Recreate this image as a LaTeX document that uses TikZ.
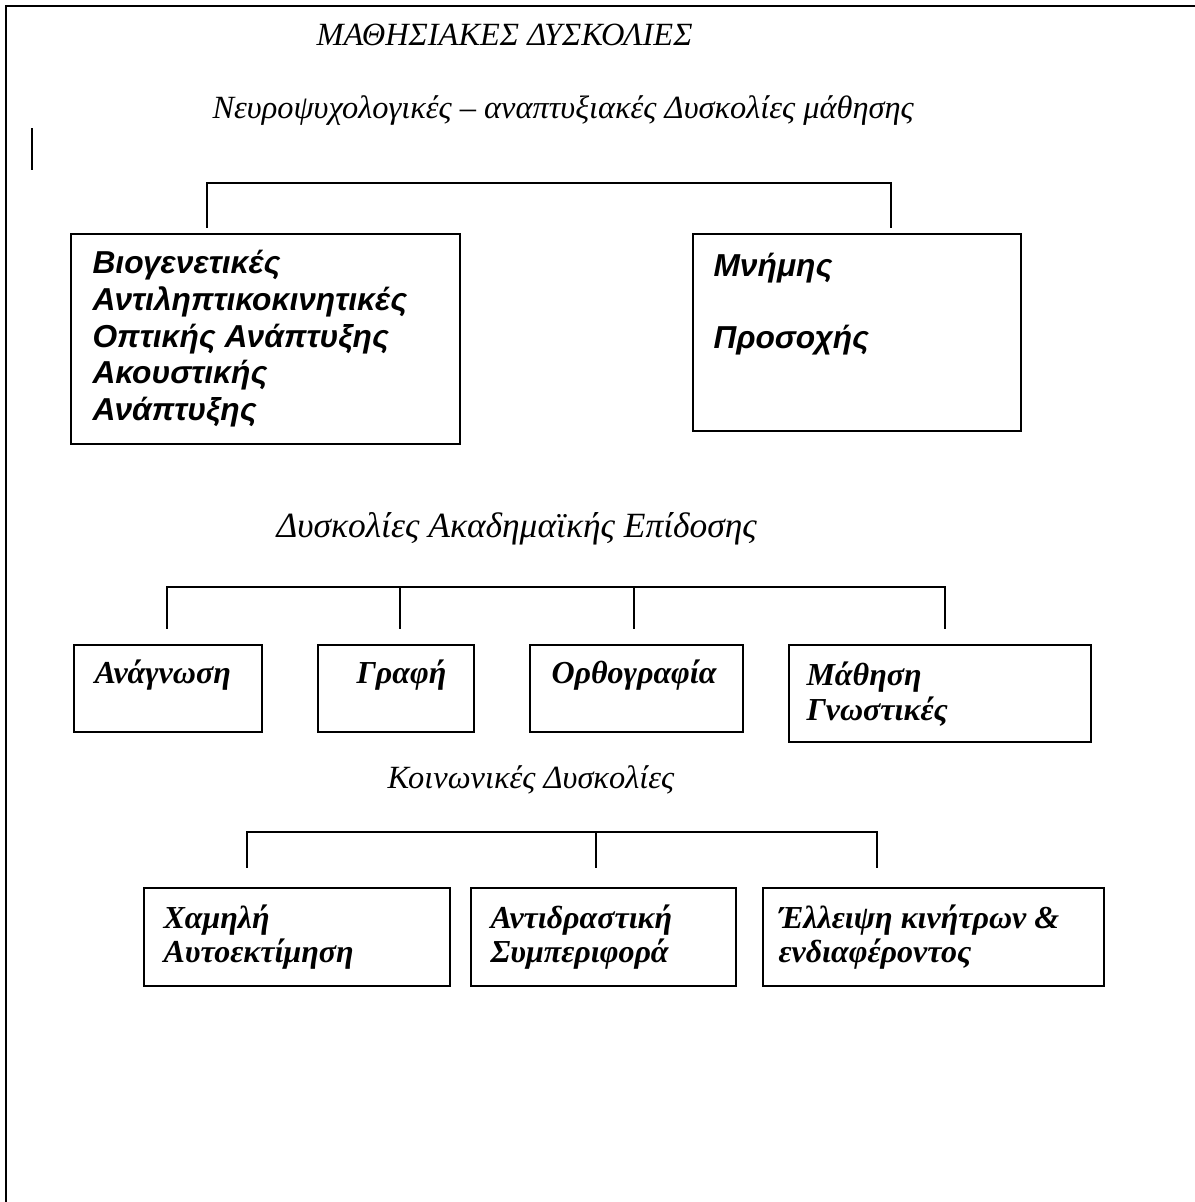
\documentclass[tikz,border=0pt]{standalone}
\usepackage{fontspec}
\setmainfont{Liberation Serif}
\newfontfamily\boxsans{Liberation Sans}
\usetikzlibrary{calc}
\newcommand\pxbox[5]{\node[boxst, anchor=north west, minimum width={(#4-#2)*0.375pt}, minimum height={(#5-#3)*0.375pt}] (#1) at (#2,#3) {};}
\tikzset{
  boxst/.style={draw=black, line width=0.75pt, inner sep=0pt, rectangle},
  head/.style={inner sep=0pt, anchor=base west, font=\fontsize{12.15}{14}\selectfont\itshape},
  sanslab/.style={inner sep=0pt, anchor=base west, font=\boxsans\fontsize{11.9}{14}\selectfont\bfseries\itshape},
  serlab/.style={inner sep=0pt, anchor=base west, font=\fontsize{12}{14}\selectfont\bfseries\itshape},
  conn/.style={line width=0.75pt, line cap=rect},
  frame/.style={line width=0.9pt}
}
\begin{document}
\begin{tikzpicture}[x=0.375pt, y=-0.375pt]
\useasboundingbox (0,0) rectangle (1195,1202);
% outer frame (clipped at right and bottom)
\draw[frame] (6,1202) -- (6,6) -- (1195,6);
\draw[line width=0.6pt] (32,128) -- (32,170);

% headings
\node[head] (title) at (316,45) {ΜΑΘΗΣΙΑΚΕΣ ΔΥΣΚΟΛΙΕΣ};
\node[head] (neuro) at (212,118) {Νευροψυχολογικές – αναπτυξιακές Δυσκολίες μάθησης};
\node[head, font=\fontsize{13.3}{15}\selectfont\itshape] (acad) at (276,537) {Δυσκολίες Ακαδημαϊκής Επίδοσης};
\node[head] (soc) at (387,788) {Κοινωνικές Δυσκολίες};

% first group boxes
\pxbox{bA}{70}{233}{459}{443}
\pxbox{bB}{692}{233}{1020}{430}
\node[sanslab] (a1) at (92,273) {Βιογενετικές};
\node[sanslab] (a2) at (92,310) {Αντιληπτικοκινητικές};
\node[sanslab] (a3) at (92,347) {Οπτικής Ανάπτυξης};
\node[sanslab] (a4) at (92,383) {Ακουστικής};
\node[sanslab] (a5) at (92,420) {Ανάπτυξης};
\node[sanslab] (m1) at (713,276) {Μνήμης};
\node[sanslab] (m2) at (713,348) {Προσοχής};

\coordinate (k1l) at (207,183);
\coordinate (k1r) at (891,183);
\draw[conn] ($(bA.north -| k1l)+(0,-6)$) -- (k1l) -- (k1r) -- ($(bB.north -| k1r)+(0,-6)$);

% second group boxes
\pxbox{bR}{73}{644}{261}{731}
\pxbox{bW}{317}{644}{473}{731}
\pxbox{bO}{529}{644}{742}{731}
\pxbox{bL}{788}{644}{1090}{741}
\node[serlab] (r1) at (94,683) {Ανάγνωση};
\node[serlab] (w1) at (356,683) {Γραφή};
\node[serlab] (o1) at (551,683) {Ορθογραφία};
\node[serlab] (l1) at (806,685) {Μάθηση};
\node[serlab] (l2) at (806,720) {Γνωστικές};

\coordinate (k2a) at (167,587);
\coordinate (k2b) at (400,587);
\coordinate (k2c) at (634,587);
\coordinate (k2d) at (945,587);
\draw[conn] ($(bR.north -| k2a)+(0,-16)$) -- (k2a) -- (k2d) -- ($(bL.north -| k2d)+(0,-16)$);
\draw[conn] (k2b) -- ($(bW.north -| k2b)+(0,-16)$);
\draw[conn] (k2c) -- ($(bO.north -| k2c)+(0,-16)$);

% third group boxes
\pxbox{bS}{143}{887}{449}{985}
\pxbox{bT}{470}{887}{735}{985}
\pxbox{bU}{762}{887}{1103}{985}
\node[serlab] (s1) at (163,928) {Χαμηλή};
\node[serlab] (s2) at (163,962) {Αυτοεκτίμηση};
\node[serlab] (t1) at (490,928) {Αντιδραστική};
\node[serlab] (t2) at (490,962) {Συμπεριφορά};
\node[serlab] (u1) at (778,928) {Έλλειψη κινήτρων \&};
\node[serlab] (u2) at (778,962) {ενδιαφέροντος};

\coordinate (k3a) at (247,832);
\coordinate (k3b) at (596,832);
\coordinate (k3c) at (877,832);
\draw[conn] ($(bS.north -| k3a)+(0,-20)$) -- (k3a) -- (k3c) -- ($(bU.north -| k3c)+(0,-20)$);
\draw[conn] (k3b) -- ($(bT.north -| k3b)+(0,-20)$);
\end{tikzpicture}
\end{document}
